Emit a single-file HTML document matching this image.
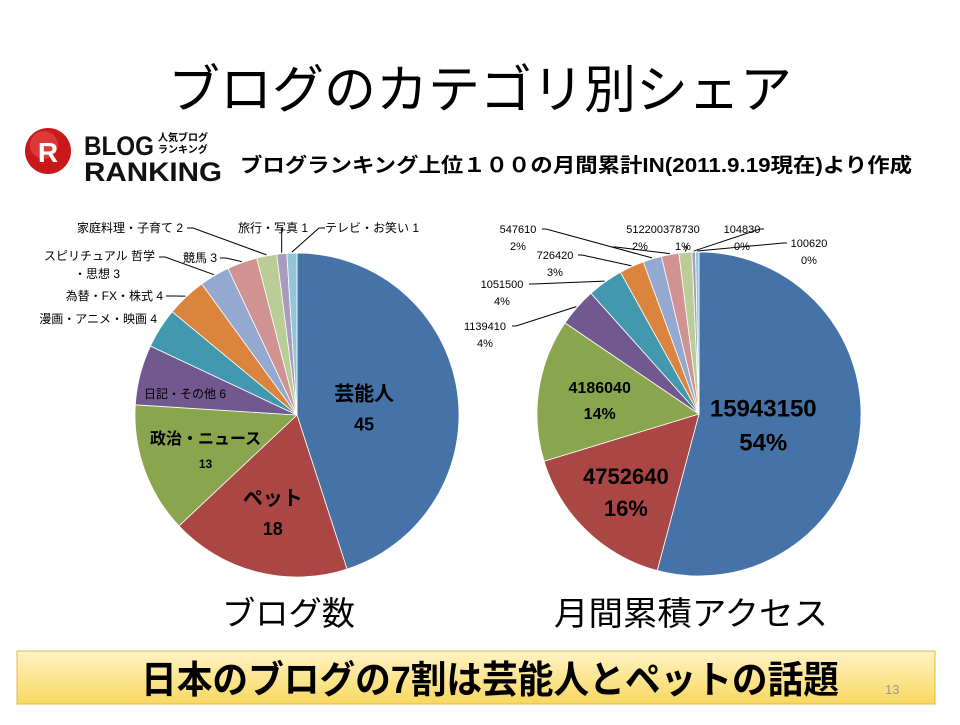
<!DOCTYPE html>
<html><head><meta charset="utf-8">
<style>
body{margin:0;background:#fff;}
svg text{font-family:"Liberation Sans","Noto Sans CJK JP",sans-serif;}
</style></head>
<body>
<svg id="c" width="960" height="720" viewBox="0 0 960 720">
<text x="480" y="108" font-size="52" text-anchor="middle">ブログのカテゴリ別シェア</text>
<g>
<circle cx="48" cy="151" r="23" fill="#c8181a"/>
<circle cx="44" cy="145" r="14" fill="#e85050" opacity="0.6"/>
<text x="48" y="162" font-size="28" font-weight="bold" fill="#fff" text-anchor="middle" font-family="Liberation Serif">R</text>
<text x="84" y="155" font-size="27" font-weight="bold" fill="#111" textLength="70" lengthAdjust="spacingAndGlyphs">BLOG</text>
<text x="84" y="181" font-size="27" font-weight="bold" fill="#111" textLength="138" lengthAdjust="spacingAndGlyphs">RANKING</text>
<text x="158" y="141" font-size="10" font-weight="bold">人気ブログ</text>
<text x="158" y="153" font-size="10" font-weight="bold">ランキング</text>
</g>
<text x="240" y="172" font-size="20" font-weight="bold" textLength="672" lengthAdjust="spacingAndGlyphs">ブログランキング上位１００の月間累計IN(2011.9.19現在)より作成</text>
<g id="left"></g>
<g id="right"></g>
<text x="222" y="625" font-size="33" textLength="133" lengthAdjust="spacingAndGlyphs">ブログ数</text>
<text x="554" y="625" font-size="33" textLength="274" lengthAdjust="spacingAndGlyphs">月間累積アクセス</text>
<defs><linearGradient id="bg" x1="0" y1="0" x2="0" y2="1"><stop offset="0" stop-color="#fff3c4"/><stop offset="1" stop-color="#f8d860"/></linearGradient></defs>
<rect x="17" y="651" width="918" height="53" fill="url(#bg)" stroke="#e0b84a"/>
<text x="141" y="693" font-size="38" font-weight="bold" textLength="698" lengthAdjust="spacingAndGlyphs">日本のブログの7割は芸能人とペットの話題</text>
<text x="885" y="694" font-size="13" fill="#999">13</text>
</svg>
<script>
const colors=["#4572A7","#AA4643","#89A54E","#71588F","#4198AF","#DB843D","#93A9CF","#D19392","#B9CD96","#A99BBD","#92C5D8"];
const leftCategories=["芸能人","ペット","政治・ニュース","日記・その他","漫画・アニメ・映画","為替・FX・株式","スピリチュアル 哲学|・思想","競馬","家庭料理・子育て","旅行・写真","テレビ・お笑い"];
const leftValues=[45,18,13,6,4,4,3,3,2,1,1];
const rightValues=[15943150,4752640,4186040,1139410,1051500,726420,547610,512200,378730,104830,100620];
const rightPercents=["54%","16%","14%","4%","4%","3%","2%","2%","1%","0%","0%"];
const NS="http://www.w3.org/2000/svg";
function mk(p,t,a){const e=document.createElementNS(NS,t);for(const k in a)e.setAttribute(k,a[k]);p.appendChild(e);return e;}
function pt(cx,cy,r,a){return [cx+r*Math.sin(a),cy-r*Math.cos(a)];}
function pie(g,cx,cy,r,vals){
  const tot=vals.reduce((a,b)=>a+b,0);let a0=0;const mids=[];
  vals.forEach((v,i)=>{
    const a1=a0+v/tot*2*Math.PI;
    const [x0,y0]=pt(cx,cy,r,a0),[x1,y1]=pt(cx,cy,r,a1);
    const p=mk(g,"path",{d:`M${cx},${cy}L${x0},${y0}A${r},${r} 0 ${a1-a0>Math.PI?1:0} 1 ${x1},${y1}Z`,fill:colors[i],stroke:"#fff","stroke-width":"0.8"});
    
    
    mids.push((a0+a1)/2);a0=a1;
  });
  return mids;
}
function txt(g,x,y,s,size,anchor,bold){const t=mk(g,"text",{x:x,y:y,"font-size":size,"text-anchor":anchor||"start"});if(bold)t.setAttribute("font-weight","bold");t.textContent=s;


return t;}
function leader(g,pts){const l=mk(g,"polyline",{points:pts.map(p=>p.join(",")).join(" "),fill:"none",stroke:"#000","stroke-width":"1"});

}
// left
const L=document.getElementById("left");
const lcx=297,lcy=415,lr=162;
const lm=pie(L,lcx,lcy,lr,leftValues);
const inFrac=[0.42,0.6,0.6];
for(let i=0;i<3;i++){const[x,y]=pt(lcx,lcy,lr*inFrac[i],lm[i]);
  const n=leftCategories[i];txt(L,x,y-4,n,i==2?16:20,"middle",true);txt(L,x,y+(i==2?20:26),String(leftValues[i]),i==2?12:18,"middle",true);}
const lpos=[[226,398,null],[157,323,null],[163,300,[166,296]],[155,260,[159,257]],[217,262,[220,258]],[183,232,[187,228]],[308,232,null],[325,232,[325,228]]];
for(let i=3;i<leftValues.length;i++){
  const p=lpos[i-3];const parts=leftCategories[i].split("|");
  const anchor=i==10?"start":"end";
  if(parts.length>1){txt(L,p[0],p[1],parts[0],12,"end");txt(L,p[0]-35,p[1]+18,parts[1]+" "+leftValues[i],12,"end");}
  else txt(L,p[0],p[1],parts[0]+" "+leftValues[i],12,anchor);
  const e=pt(lcx,lcy,lr+1,lm[i]);
  if(i==9)leader(L,[[e[0],228],e]);
  else if(p[2])leader(L,[p[2],[p[2][0]+(i==10?-6:6),p[2][1]],e]);
}
// right
const R=document.getElementById("right");
const rcx=699,rcy=414,rr=162;
const rm=pie(R,rcx,rcy,rr,rightValues);
const rin=[0.4,0.65,0.62];
for(let i=0;i<3;i++){const[x,y]=pt(rcx,rcy,rr*rin[i],rm[i]);
  const s=i==0?24:i==1?22:16;
  txt(R,x,y-6,String(rightValues[i]),s,"middle",true);txt(R,x,y+s+4,rightPercents[i],s,"middle",true);}
const rpos=[[485,330,[512,326]],[502,288,[529,284]],[555,259,[578,255]],[518,233,[542,229]],[641,233,[612,247]],[683,233,[683,247]],[742,233,[764,229]],[809,247,[787,243]]];
for(let i=3;i<rightValues.length;i++){
  const p=rpos[i-3];
  if(i==7){txt(R,663,p[1],String(rightValues[7])+String(rightValues[8]),11,"middle");txt(R,640,p[1]+17,rightPercents[7],11,"middle");}
  else if(i==8){txt(R,683,p[1]+17,rightPercents[8],11,"middle");}
  else{txt(R,p[0],p[1],String(rightValues[i]),11,"middle");txt(R,p[0],p[1]+17,rightPercents[i],11,"middle");}
  const e=pt(rcx,rcy,rr+1,rm[i]);
  leader(R,[p[2],[p[2][0]+(i>=9?-4:4),p[2][1]],e]);
}
</script>
</body></html>
